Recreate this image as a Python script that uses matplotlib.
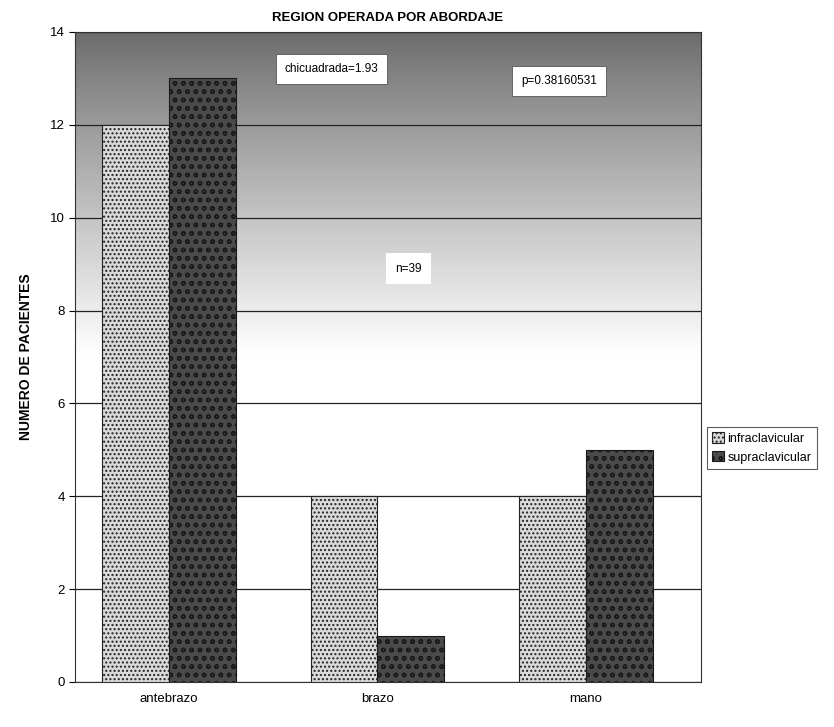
import matplotlib.pyplot as plt
import numpy as np

plt.rcParams['font.family'] = ['Liberation Sans', 'DejaVu Sans']

# conteos por region y abordaje
regiones = ['antebrazo', 'brazo', 'mano']
infraclavicular = [12, 4, 4]
supraclavicular = [13, 1, 5]
yticks = [0, 2, 4, 6, 8, 10, 12, 14]

fig = plt.figure(figsize=(8.34, 7.27), dpi=100)
ax = fig.add_axes([0.09, 0.062, 0.75, 0.894])

# fondo degradado gris arriba -> blanco abajo
t = np.linspace(0, 1, 256).reshape(-1, 1)
fondo = 0.42 + 0.58 * np.clip(t / 0.5, 0, 1) ** 0.9
ax.imshow(fondo, cmap='gray', vmin=0, vmax=1, aspect='auto',
          extent=(-0.45, 2.55, 0, 14), origin='upper', zorder=0)

x = np.arange(len(regiones))
w = 0.32
ax.bar(x - w / 2, infraclavicular, w, color='#dadada', edgecolor='#222222',
       hatch='....', linewidth=0.8, label='infraclavicular', zorder=3)
ax.bar(x + w / 2, supraclavicular, w, color='#4a4a4a', edgecolor='#1a1a1a',
       hatch='oo', linewidth=0.8, label='supraclavicular', zorder=3)

ax.set_xlim(-0.45, 2.55)
ax.set_ylim(0, 14)
ax.set_yticks(yticks)
ax.yaxis.grid(True, color='#222222', linewidth=0.9, zorder=1)
ax.set_axisbelow(True)
ax.set_xticks(x)
ax.set_xticklabels(regiones, fontsize=9.5)
ax.tick_params(axis='y', labelsize=9.5, length=4)
ax.tick_params(axis='x', length=0, pad=8)
for s in ax.spines.values():
    s.set_color('#333333')
    s.set_linewidth(0.8)

ax.set_ylabel('NUMERO DE PACIENTES', fontsize=10, fontweight='bold', labelpad=12)
ax.set_title('REGION OPERADA POR ABORDAJE', fontsize=9.5, fontweight='bold', pad=8)

caja = dict(boxstyle='square,pad=0.75', facecolor='white', edgecolor='#555555', linewidth=0.6)
ax.text(0.78, 13.2, 'chicuadrada=1.93', fontsize=8.5, ha='center', va='center', bbox=caja, zorder=5)
ax.text(1.87, 12.95, 'p=0.38160531', fontsize=8.5, ha='center', va='center', bbox=caja, zorder=5)
ax.text(1.15, 8.9, 'n=39', fontsize=8.5, ha='center', va='center',
        bbox=dict(boxstyle='square,pad=0.8', facecolor='white', edgecolor='none'), zorder=5)

leg = ax.legend(loc='center left', bbox_to_anchor=(1.0, 0.36), fontsize=9,
                frameon=True, fancybox=False, edgecolor='#333333',
                handlelength=0.9, handleheight=0.9, handletextpad=0.3,
                borderpad=0.45, labelspacing=0.5)
leg.get_frame().set_linewidth(0.8)

fig.savefig('out.png', dpi=100)
